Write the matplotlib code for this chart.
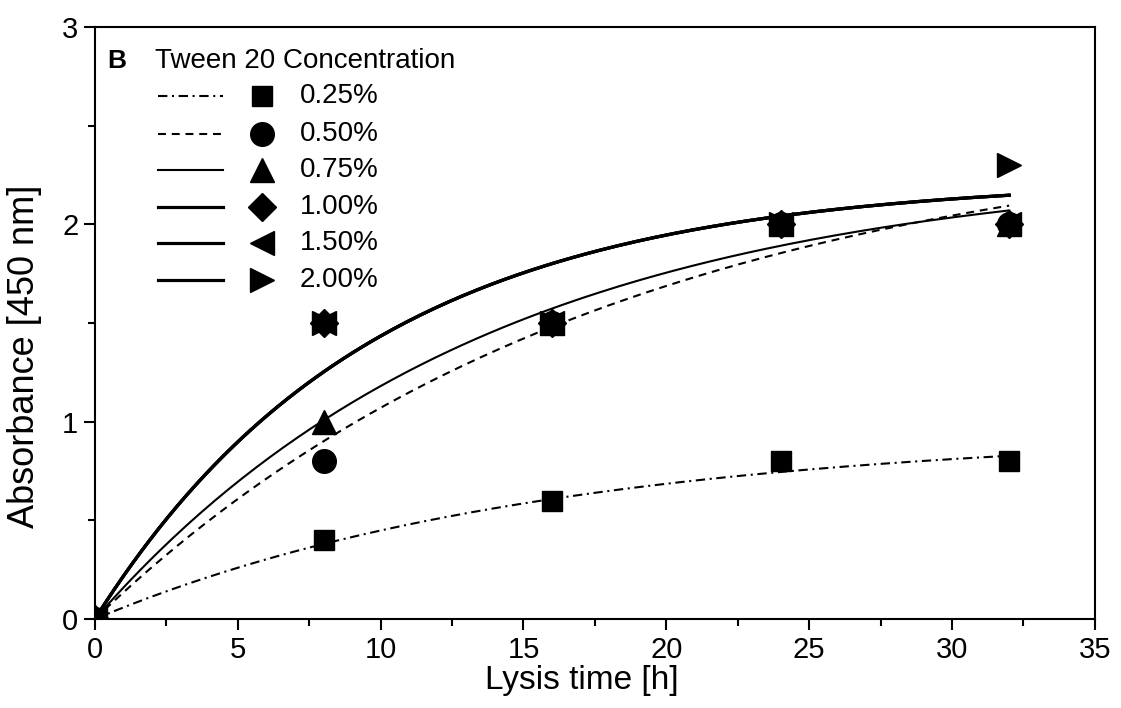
import matplotlib
matplotlib.use('Agg')
import matplotlib.pyplot as plt
import numpy as np

plt.rcParams['font.family'] = ['Liberation Sans', 'DejaVu Sans']

# measured points
lysis_time = [0, 8, 16, 24, 32]
conc_labels = ['0.25%', '0.50%', '0.75%', '1.00%', '1.50%', '2.00%']
abs_025 = [0.0, 0.4, 0.6, 0.8, 0.8]
abs_050 = [0.0, 0.8, 1.5, 2.0, 2.0]
abs_075 = [0.0, 1.0, 1.5, 2.0, 2.0]
abs_100 = [0.0, 1.5, 1.5, 2.0, 2.0]
abs_150 = [0.0, 1.5, 1.5, 2.0, 2.0]
abs_200 = [0.0, 1.5, 1.5, 2.0, 2.3]

# exponential fit parameters y = a*(1-exp(-k t))
fit_a = [0.95, 2.53, 2.30, 2.23, 2.23, 2.23]
fit_k = [0.0639, 0.055, 0.072, 0.103, 0.103, 0.103]

series = [abs_025, abs_050, abs_075, abs_100, abs_150, abs_200]
markers = ['s', 'o', '^', 'D', '<', '>']
msizes = [15, 17, 17, 14, 17, 17]
lstyles = [(0, (4.5, 2.2, 1.0, 2.2)), (0, (3.8, 2.8)), '-', '-', '-', '-']
lwidths = [1.5, 1.5, 1.5, 2.3, 2.3, 2.3]

fig = plt.figure(figsize=(11.21, 7.08), dpi=100)
ax = fig.add_axes([0.0847, 0.1257, 0.892, 0.8362])

t_fit = np.linspace(0, 32, 200)
for a, k, ls, lw in zip(fit_a, fit_k, lstyles, lwidths):
    ax.plot(t_fit, a * (1 - np.exp(-k * t_fit)), color='black', ls=ls, lw=lw)

for ys, m, ms in zip(series, markers, msizes):
    ax.plot(lysis_time, ys, ls='none', marker=m, ms=ms, color='black', zorder=3)

ax.set_xlim(0, 35)
ax.set_ylim(0, 3)
ax.set_xticks(range(0, 36, 5))
ax.set_xticks(np.arange(0, 35.1, 2.5), minor=True)
ax.set_yticks([0, 1, 2, 3])
ax.set_yticks(np.arange(0, 3.01, 0.5), minor=True)
ax.tick_params(which='major', direction='out', length=8, width=1.5, labelsize=21, pad=4)
ax.tick_params(which='minor', direction='out', length=5, width=1.5)
for s in ax.spines.values():
    s.set_linewidth(1.5)
ax.set_xlabel('Lysis time [h]', fontsize=24)
ax.set_ylabel('Absorbance [450 nm]', fontsize=26)
ax.xaxis.set_label_coords(0.487, -0.078)
ax.yaxis.set_label_coords(-0.053, 0.444)

# legend drawn by hand
tr = ax.transAxes
ax.text(0.012, 0.943, 'B', transform=tr, fontsize=19, fontweight='bold', va='center')
ax.text(0.06, 0.943, 'Tween 20 Concentration', transform=tr, fontsize=20, va='center')
row_y = [0.884, 0.819, 0.758, 0.696, 0.635, 0.573]
for yy, lab, m, ms, ls, lw in zip(row_y, conc_labels, markers, msizes, lstyles, lwidths):
    ax.plot([0.063, 0.128], [yy, yy], transform=tr, color='black', ls=ls, lw=lw)
    ax.plot([0.167], [yy], transform=tr, marker=m, ms=ms, color='black', ls='none')
    ax.text(0.205, yy, lab, transform=tr, fontsize=20, va='center')

fig.savefig('out.png', dpi=100)
